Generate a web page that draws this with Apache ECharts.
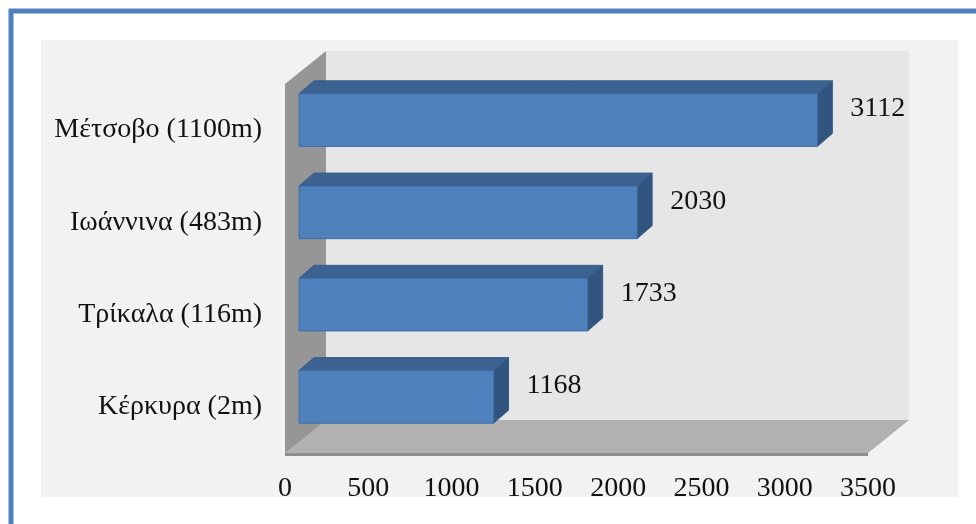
<!DOCTYPE html>
<html>
<head>
<meta charset="utf-8">
<script src="https://cdn.jsdelivr.net/npm/echarts@6/dist/echarts.min.js"></script>
<style>
  html, body { margin: 0; padding: 0; background: #fff; }
  #chart { width: 976px; height: 524px; }
</style>
</head>
<body>
<div id="chart"></div>
<script>
// data (bottom to top, like the category axis)
var categories = ['Κέρκυρα (2m)', 'Τρίκαλα (116m)', 'Ιωάννινα (483m)', 'Μέτσοβο (1100m)'];
var rainfall = [1168, 1733, 2030, 3112];
var axisMin = 0;
var axisMax = 3500;
var axisStep = 500;

// fake 3d, offsets in px
var depth = [41, -33];
var barShift = [14, -10];
var barDepth = [15, -13];
var serif = '"Liberation Serif", "DejaVu Serif", serif';

var chart = echarts.init(document.getElementById('chart'));

function renderWalls(params, api) {
  var cs = params.coordSys;
  var x0 = cs.x, y0 = cs.y, x1 = cs.x + cs.width, y1 = cs.y + cs.height;
  var dx = depth[0], dy = depth[1];
  return {
    type: 'group',
    children: [
      // back wall
      { type: 'rect', shape: { x: x0 + dx, y: y0 + dy, width: cs.width, height: cs.height },
        style: { fill: '#e6e6e6' } },
      // left wall
      { type: 'polygon', shape: { points: [[x0, y0], [x0 + dx, y0 + dy], [x0 + dx, y1 + dy], [x0, y1 + 3]] },
        style: { fill: '#969696' } },
      // floor
      { type: 'polygon', shape: { points: [[x0, y1], [x0 + dx, y1 + dy], [x1 + dx, y1 + dy], [x1, y1]] },
        style: { fill: '#b1b1b1' } },
      { type: 'rect', shape: { x: x0, y: y1, width: cs.width, height: 3 },
        style: { fill: '#8e8e8e' } }
    ]
  };
}

function renderBar(params, api) {
  var end = api.coord([api.value(0), api.value(1)]);
  var start = api.coord([0, api.value(1)]);
  var h = api.size([0, 1])[1] * 0.57;
  var xl = start[0] + barShift[0];
  var xr = end[0] + barShift[0];
  var yt = end[1] + barShift[1] - h / 2;
  var yb = yt + h;
  var bx = barDepth[0], by = barDepth[1];
  return {
    type: 'group',
    children: [
      { type: 'polygon', shape: { points: [[xl, yt], [xl + bx, yt + by], [xr + bx, yt + by], [xr, yt]] },
        style: { fill: '#3c6291', stroke: '#385d8a', lineWidth: 1 } },
      { type: 'polygon', shape: { points: [[xr, yt], [xr + bx, yt + by], [xr + bx, yb + by], [xr, yb]] },
        style: { fill: '#31557f', stroke: '#385d8a', lineWidth: 1 } },
      { type: 'rect', shape: { x: xl, y: yt, width: xr - xl, height: h },
        style: { fill: '#4f81bd', stroke: '#3f6ea6', lineWidth: 1 } },
      { type: 'text', x: end[0] + 47, y: end[1] - 21,
        style: { text: String(api.value(0)), fill: '#111', font: '28px ' + serif,
          verticalAlign: 'middle', align: 'left' } }
    ]
  };
}

var option = {
  animation: false,
  graphic: [
    { type: 'rect', z: -10, shape: { x: 11, y: 11, width: 1000, height: 600 },
      style: { fill: '#fff', stroke: '#4f81bd', lineWidth: 5 } },
    { type: 'rect', z: -9, shape: { x: 41, y: 40, width: 917, height: 457 },
      style: { fill: '#f2f2f2' } }
  ],
  grid: { left: 285, right: 108, top: 84, bottom: 71 },
  xAxis: {
    type: 'value',
    min: axisMin,
    max: axisMax,
    interval: axisStep,
    axisLine: { show: false },
    axisTick: { show: false },
    splitLine: { show: false },
    axisLabel: { margin: 22, color: '#111', fontSize: 28, fontFamily: serif,
      formatter: function (v) { return String(v); } }
  },
  yAxis: {
    type: 'category',
    data: categories,
    axisLine: { show: false },
    axisTick: { show: false },
    axisLabel: { margin: 23, color: '#111', fontSize: 28, fontFamily: serif,
      padding: [8, 0, 0, 0] }
  },
  series: [
    { type: 'custom', z: 1, silent: true, renderItem: renderWalls, data: [[0, 0]] },
    { type: 'custom', z: 2, renderItem: renderBar, encode: { x: 0, y: 1 },
      data: rainfall.map(function (v, i) { return [v, i]; }) }
  ]
};

chart.setOption(option);
</script>
</body>
</html>
